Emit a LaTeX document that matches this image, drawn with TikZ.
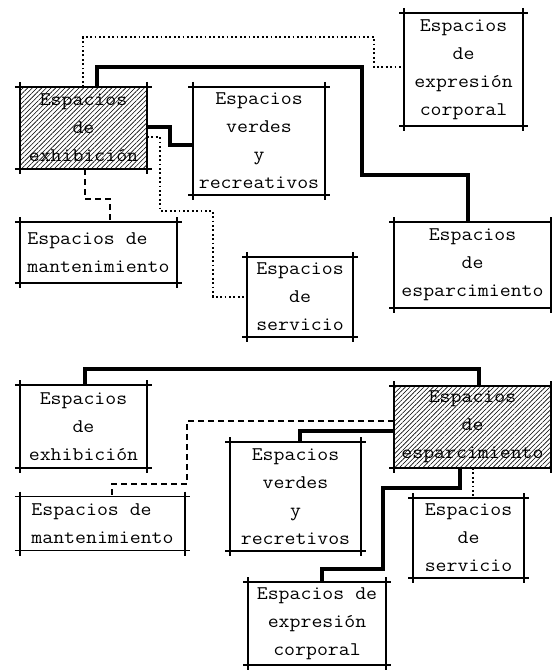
\documentclass[tikz,border=0pt]{standalone}
\usepackage{fontspec}
\setmonofont{Latin Modern Mono}[FakeStretch=1.1]
\usetikzlibrary{patterns.meta}
\tikzset{
  tbox/.style={inner sep=0pt, outer sep=0pt, align=center,
    font=\ttfamily\fontsize{19.3bp}{28bp}\selectfont},
  hatch/.style={pattern={Lines[angle=45,distance=3.3bp,line width=0.6bp]}},
  strong/.style={line width=3.1bp},
  dotline/.style={line width=1.8bp, dash pattern=on 1.8bp off 2.6bp},
  dashline/.style={line width=1.8bp, dash pattern=on 6bp off 4bp},
  frame/.style={line width=1.5bp}
}
\newcommand\myboxframe[1]{%
  \draw[frame] ([xshift=-5bp]#1.north west) -- ([xshift=5bp]#1.north east);
  \draw[frame] ([xshift=-5bp]#1.south west) -- ([xshift=5bp]#1.south east);
  \draw[frame] ([yshift=5bp]#1.north west) -- ([yshift=-5bp]#1.south west);
  \draw[frame] ([yshift=5bp]#1.north east) -- ([yshift=-5bp]#1.south east);
}
\begin{document}
\begin{tikzpicture}[x=1bp,y=-1bp]
\useasboundingbox (0,0) rectangle (552,671);
% ---------- top diagram ----------
\node[tbox, hatch, minimum width=127bp, minimum height=82bp] (A) at (83.5,128) {Espacios\\de\\exhibición};
\node[tbox, minimum width=132bp, minimum height=108bp] (B) at (259,141) {Espacios\\verdes\\y\\recreativos};
\node[tbox, minimum width=119bp, minimum height=113bp] (C) at (463.5,69.5) {Espacios\\de\\expresión\\corporal};
\node[tbox, align=left, minimum width=157bp, minimum height=61bp] (D) at (98.5,252.5) {Espacios de\\mantenimiento};
\node[tbox, minimum width=106bp, minimum height=80bp] (E) at (300,297) {Espacios\\de\\servicio};
\node[tbox, minimum width=157bp, minimum height=86bp] (F) at (472.5,265) {Espacios\\de\\esparcimiento};
\myboxframe{A}\myboxframe{B}\myboxframe{C}\myboxframe{D}\myboxframe{E}\myboxframe{F}
\draw[strong] (97,0 |- A.north) -- (97,67) -- (362,67) -- (362,175) -- (468,175) -- (468,0 |- F.north);
\draw[strong] (A.east |- 0,127) -- (170,127) -- (170,145) -- (B.west |- 0,145);
\draw[dotline] (83,0 |- A.north) -- (83,37) -- (374,37) -- (374,67) -- (C.west |- 0,67);
\draw[dotline] (A.east |- 0,137) -- (160,137) -- (160,211) -- (213,211) -- (213,297) -- (E.west |- 0,297);
\draw[dashline] (85,0 |- A.south) -- (85,199) -- (110,199) -- (110,0 |- D.north);
% ---------- bottom diagram ----------
\node[tbox, minimum width=127bp, minimum height=83bp] (G) at (83.5,426.5) {Espacios\\de\\exhibición};
\node[tbox, hatch, minimum width=157bp, minimum height=82bp] (H) at (472.5,427) {Espacios\\de\\esparcimiento};
\node[tbox, align=left, minimum width=165bp, minimum height=54bp] (I) at (102.5,523.5) {Espacios de\\mantenimiento};
\node[tbox, minimum width=131bp, minimum height=109bp] (J) at (295.5,496.5) {Espacios\\verdes\\y\\recretivos};
\node[tbox, minimum width=111bp, minimum height=80bp] (K) at (468.5,538) {Espacios\\de\\servicio};
\node[tbox, minimum width=138bp, minimum height=83bp] (L) at (317,623.5) {Espacios de\\expresión\\corporal};
\myboxframe{G}\myboxframe{H}\myboxframe{I}\myboxframe{J}\myboxframe{K}\myboxframe{L}
\draw[strong] (85,0 |- G.north) -- (85,369) -- (479,369) -- (479,0 |- H.north);
\draw[dashline] (H.west |- 0,421) -- (187,421) -- (187,484) -- (112,484) -- (112,0 |- I.north);
\draw[strong] (H.west |- 0,431) -- (300,431) -- (300,0 |- J.north);
\draw[strong] (460,0 |- H.south) -- (460,488) -- (383,488) -- (383,569) -- (322,569) -- (322,0 |- L.north);
\draw[dotline] (473,0 |- H.south) -- (473,0 |- K.north);
\end{tikzpicture}
\end{document}
